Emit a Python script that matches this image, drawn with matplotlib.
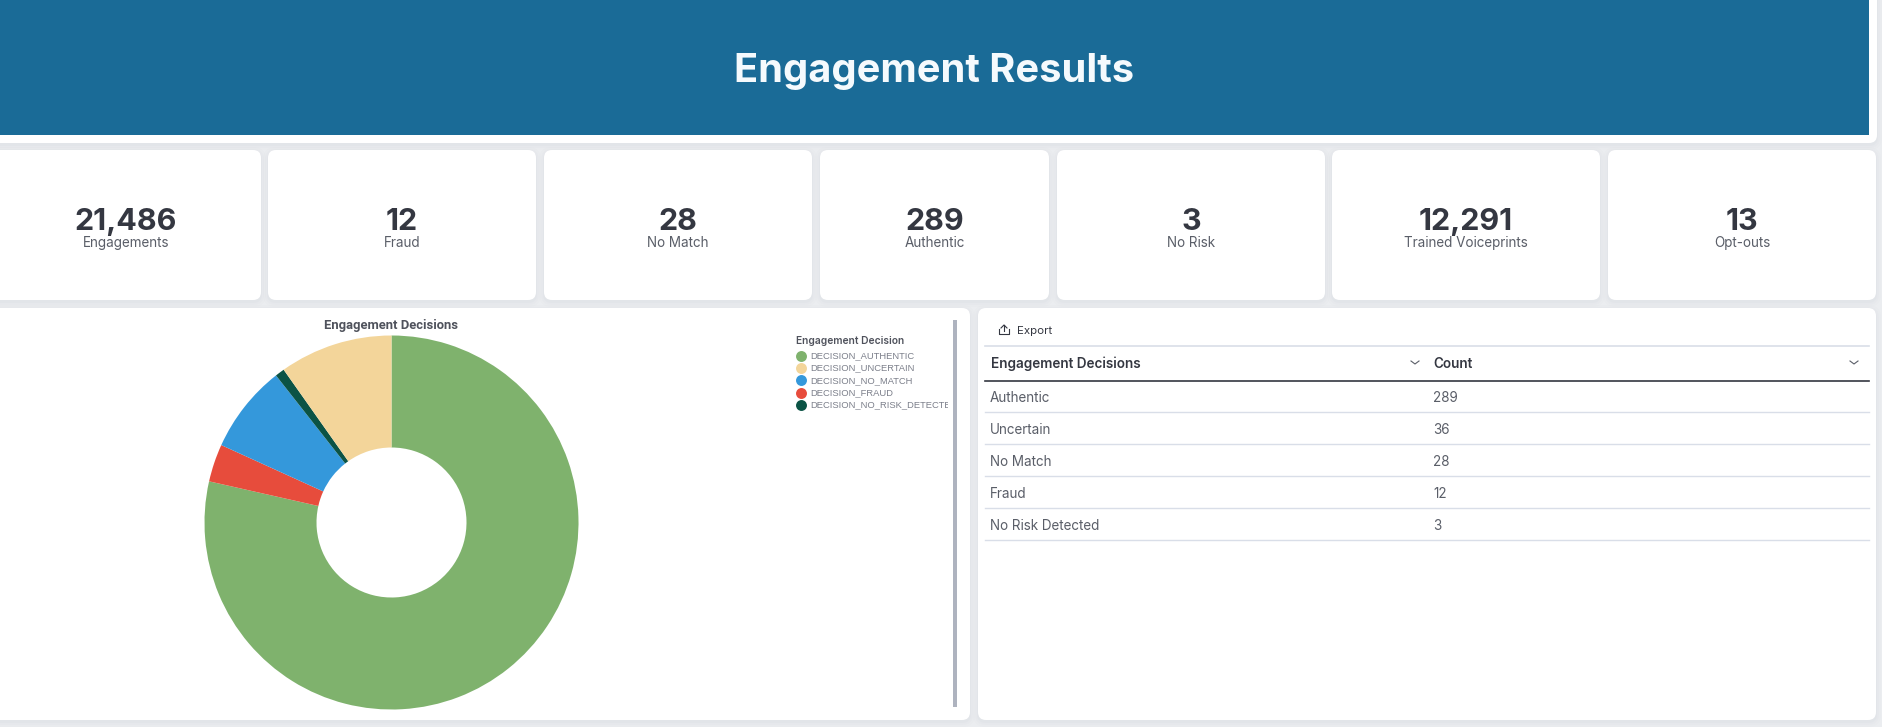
import matplotlib
matplotlib.use("Agg")
import matplotlib.pyplot as plt
from matplotlib.patches import FancyBboxPatch, Rectangle

# Dashboard figures
page_title = "Engagement Results"
kpi_values = ["21,486", "12", "28", "289", "3", "12,291", "13"]
kpi_labels = ["Engagements", "Fraud", "No Match", "Authentic", "No Risk",
              "Trained Voiceprints", "Opt-outs"]
decision_codes = ["DECISION_AUTHENTIC", "DECISION_UNCERTAIN", "DECISION_NO_MATCH",
                  "DECISION_FRAUD", "DECISION_NO_RISK_DETECTED"]
decision_names = ["Authentic", "Uncertain", "No Match", "Fraud", "No Risk Detected"]
decision_counts = [289, 36, 28, 12, 3]
decision_colors = ["#7fb26d", "#f3d59a", "#3498db", "#e74c3c", "#0b5345"]
# clockwise order of the donut's slices, as positions in the lists above
slice_order = [0, 3, 2, 4, 1]

W, H = 1882, 727
PAGE = "#ebedf0"
INK = "#343741"
MUTED = "#5a5e68"
RULE = "#d9dee8"

plt.rcParams["font.family"] = ["Inter", "DejaVu Sans"]
fig = plt.figure(figsize=(W / 100, H / 100), dpi=100, facecolor=PAGE)
canvas = fig.add_axes([0, 0, 1, 1])
canvas.set_xlim(0, W)
canvas.set_ylim(H, 0)
canvas.axis("off")


def px(size):
    return size * 0.72


def card(x0, y0, x1, y1, radius=8):
    # soft drop shadow built from stacked translucent boxes
    for grow, alpha in [(5, 0.02), (3, 0.025), (1, 0.035)]:
        canvas.add_patch(FancyBboxPatch(
            (x0 - grow, y0 - grow + 2), x1 - x0 + 2 * grow, y1 - y0 + 2 * grow,
            boxstyle=f"round,pad=0,rounding_size={radius + grow}",
            fc="#8a94a6", ec="none", alpha=alpha, zorder=1))
    canvas.add_patch(FancyBboxPatch(
        (x0, y0), x1 - x0, y1 - y0,
        boxstyle=f"round,pad=0,rounding_size={radius}",
        fc="white", ec="none", zorder=2))


# header banner
card(-20, -20, 1877, 143)
canvas.add_patch(Rectangle((0, 0), 1869, 135, fc="#1a6b97", ec="none", zorder=3))
canvas.text(934.5, 71, page_title, color="#f5fafd", fontsize=px(39.8), fontweight="bold",
            ha="center", va="center", zorder=4)

# KPI tiles
tile_left = [-20, 268, 544, 820, 1057, 1332, 1608]
tile_right = [261, 536, 812, 1049, 1325, 1600, 1876]
tile_center = [126, 402, 678, 935, 1191, 1466, 1742]
for i, (val, lab) in enumerate(zip(kpi_values, kpi_labels)):
    card(tile_left[i], 150, tile_right[i], 300)
    canvas.text(tile_center[i], 222, val, color=INK, fontsize=px(30.5), fontweight="bold",
                ha="center", va="center", zorder=4)
    canvas.text(tile_center[i], 243, lab, color=MUTED, fontsize=px(13.5),
                ha="center", va="center", zorder=4)

# lower panels
card(-20, 308, 970, 720)
card(978, 308, 1876, 720)

# donut of engagement decisions
cx, cy, outer = 391.5, 522.5, 187
donut = fig.add_axes([(cx - outer) / W, 1 - (cy + outer) / H, 2 * outer / W, 2 * outer / H],
                     zorder=5)
donut.pie([decision_counts[k] for k in slice_order],
          colors=[decision_colors[k] for k in slice_order],
          startangle=90, counterclock=False,
          radius=1.0, wedgeprops=dict(width=1 - 75 / 187, linewidth=0))
donut.set_xlim(-1, 1)
donut.set_ylim(-1, 1)
donut.set_aspect("equal")
donut.axis("off")

canvas.text(391.5, 325, "Engagement Decisions", color="#4f525c", fontsize=px(13),
            fontfamily="Roboto", fontweight="bold", ha="center", va="center", zorder=4)

# legend, clipped by the panel's scroll region
canvas.text(796, 341, "Engagement Decision", color="#4f525c", fontsize=px(10.2),
            fontweight="semibold", ha="left", va="center", zorder=4)
legend_clip = Rectangle((780, 330), 168, 120, transform=canvas.transData)
for i, (code, col) in enumerate(zip(decision_codes, decision_colors)):
    y = 356 + i * 12.2
    canvas.scatter([801], [y], s=62, color=col, linewidths=0, zorder=4)
    t = canvas.text(810, y, code, color="#7b7f8a", fontsize=px(9.4),
                    fontfamily="Liberation Sans", ha="left", va="center", zorder=4)
    t.set_clip_on(True)
    t.set_clip_path(legend_clip)
canvas.add_patch(Rectangle((953, 320), 4, 387, fc="#aeb3bf", ec="none", zorder=4))

# export control: tray and upward arrow
ex, ey = 1004, 330
canvas.plot([ex - 5, ex - 5, ex + 5, ex + 5], [ey - 1, ey + 4, ey + 4, ey - 1],
            color=INK, lw=0.8, zorder=4)
canvas.plot([ex - 3, ex, ex + 3], [ey - 2, ey - 5, ey - 2], color=INK, lw=0.8, zorder=4)
canvas.plot([ex, ex], [ey - 5, ey + 1], color=INK, lw=0.8, zorder=4)
canvas.text(1017, 330.5, "Export", color=INK, fontsize=px(11.5), ha="left", va="center", zorder=4)

# decisions table
canvas.plot([985, 1869], [345.5, 345.5], color=RULE, lw=1.2, zorder=4)
canvas.plot([985, 1869], [381, 381], color=INK, lw=1.2, zorder=4)
canvas.text(991, 364, "Engagement Decisions", color=INK, fontsize=px(13.5),
            fontweight="semibold", ha="left", va="center", zorder=4)
canvas.text(1433, 364, "Count", color=INK, fontsize=px(13.5),
            fontweight="semibold", ha="left", va="center", zorder=4)
for chev in (1415, 1854):
    canvas.plot([chev - 4, chev, chev + 4], [361, 364, 361], color=MUTED, lw=0.8, zorder=4)
for i, (name, count) in enumerate(zip(decision_names, decision_counts)):
    y = 397.5 + i * 32
    canvas.text(990, y, name, color=MUTED, fontsize=px(13.5), ha="left", va="center", zorder=4)
    canvas.text(1433, y, str(count), color=MUTED, fontsize=px(13.5), ha="left", va="center", zorder=4)
    canvas.plot([985, 1869], [y + 14.5, y + 14.5], color=RULE, lw=1, zorder=4)

fig.savefig("out.png", dpi=100, facecolor=PAGE)
